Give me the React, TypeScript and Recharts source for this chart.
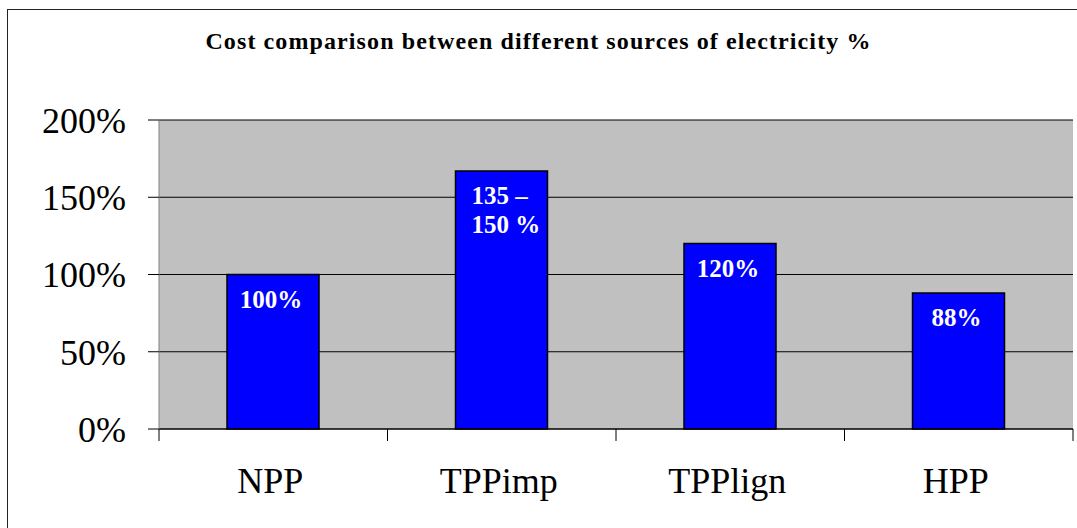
import React from "react";
import {
  BarChart,
  Bar,
  XAxis,
  YAxis,
  CartesianGrid,
  LabelList,
} from "recharts";

const categories = ["NPP", "TPPimp", "TPPlign", "HPP"];
const costValues = [100, 167, 120, 88];
const barLabels = ["100%", "135 –\n150 %", "120%", "88%"];
const yTicks = [0, 50, 100, 150, 200];
const title = "Cost comparison between different sources of electricity %";

const SERIF = '"Liberation Serif", "Times New Roman", serif';

const data = categories.map((name, i) => ({
  name,
  value: costValues[i],
  label: barLabels[i],
}));

// category labels plus the boundary tick marks between categories
function CategoryTick(props: any) {
  const { x, y, width, payload, index, visibleTicksCount } = props;
  const band = width / visibleTicksCount;
  const isLast = index === visibleTicksCount - 1;
  return (
    <g>
      <line x1={x - band / 2} y1={y} x2={x - band / 2} y2={y + 12} stroke="#000" />
      {isLast && (
        <line x1={x + band / 2} y1={y} x2={x + band / 2} y2={y + 12} stroke="#000" />
      )}
      <text
        x={x - 3}
        y={y + 64}
        textAnchor="middle"
        fontFamily={SERIF}
        fontSize={36}
        fill="#000"
      >
        {payload.value}
      </text>
    </g>
  );
}

function BarText(props: any) {
  const { x, y, width, value } = props;
  const lines = String(value).split("\n");
  if (lines.length > 1) {
    return (
      <text fontFamily={SERIF} fontWeight="bold" fontSize={25} fill="#fff">
        {lines.map((l, i) => (
          <tspan key={i} x={x + 16} y={y + 33 + i * 29}>
            {l}
          </tspan>
        ))}
      </text>
    );
  }
  return (
    <text
      x={x + width / 2 - 2}
      y={y + 33}
      textAnchor="middle"
      fontFamily={SERIF}
      fontWeight="bold"
      fontSize={25}
      fill="#fff"
    >
      {value}
    </text>
  );
}

export default function App() {
  return (
    <div
      style={{
        position: "absolute",
        left: 0,
        top: 0,
        width: 1077,
        height: 528,
        overflow: "hidden",
        background: "#fff",
      }}
    >
      {/* outer frame, runs past the page edge */}
      <div
        style={{
          position: "absolute",
          left: 7,
          top: 9,
          width: 1100,
          height: 560,
          border: "1px solid #222",
        }}
      />
      <div
        style={{
          position: "absolute",
          left: 0,
          top: 29,
          width: 1077,
          textAlign: "center",
          fontFamily: SERIF,
          fontWeight: "bold",
          fontSize: 24,
          letterSpacing: 1.1,
          lineHeight: "24px",
        }}
      >
        {title}
      </div>
      <div style={{ position: "absolute", left: 0, top: 0 }}>
        <BarChart
          width={1077}
          height={528}
          data={data}
          margin={{ top: 120, right: 4, left: 0, bottom: 0 }}
        >
          <CartesianGrid vertical={false} stroke="#000" fill="#C0C0C0" fillOpacity={1} />
          <XAxis
            dataKey="name"
            height={99}
            axisLine={{ stroke: "#000" }}
            tickLine={false}
            tickSize={0}
            tickMargin={0}
            interval={0}
            tick={<CategoryTick />}
          />
          <YAxis
            width={159}
            domain={[0, 200]}
            ticks={yTicks}
            interval={0}
            tickFormatter={(v) => v + "%"}
            axisLine={{ stroke: "#808080" }}
            tickLine={{ stroke: "#000" }}
            tickSize={11}
            tickMargin={22}
            tick={{ fill: "#000", fontSize: 36, fontFamily: SERIF }}
          />
          <YAxis
            yAxisId="right"
            orientation="right"
            width={0}
            domain={[0, 200]}
            tick={false}
            tickLine={false}
            axisLine={{ stroke: "#808080" }}
          />
          <Bar
            dataKey="value"
            fill="#0000FF"
            stroke="#000"
            strokeWidth={1.5}
            barSize={92}
            isAnimationActive={false}
          >
            <LabelList dataKey="label" content={<BarText />} />
          </Bar>
        </BarChart>
      </div>
    </div>
  );
}
